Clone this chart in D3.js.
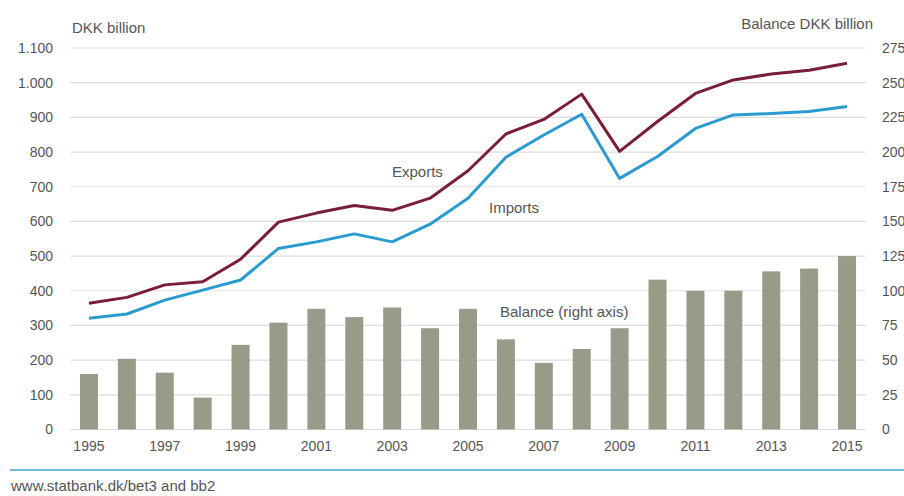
<!DOCTYPE html>
<html>
<head>
<meta charset="utf-8">
<script src="https://cdn.jsdelivr.net/npm/d3@7"></script>
<style>
  html, body { margin: 0; padding: 0; background: #fff; }
  svg { display: block; font-family: "Liberation Sans", Arial, sans-serif; }
</style>
</head>
<body>
<svg id="chart" width="904" height="496"></svg>
<script>
// Danish foreign trade, DKK billion
const years = [1995, 1996, 1997, 1998, 1999, 2000, 2001, 2002, 2003, 2004, 2005,
               2006, 2007, 2008, 2009, 2010, 2011, 2012, 2013, 2014, 2015];
const exportsVals = [364, 381, 417, 426, 491, 598, 624, 646, 632, 667, 746,
                     852, 894, 967, 802, 888, 969, 1008, 1025, 1036, 1056];
const importsVals = [321, 333, 373, 402, 431, 522, 541, 564, 541, 592, 667,
                     785, 849, 909, 724, 787, 868, 907, 911, 917, 931];
const balanceVals = [40, 51, 41, 23, 61, 77, 87, 81, 88, 73, 87,
                     65, 48, 58, 73, 108, 100, 100, 114, 116, 125];
const leftTicks = [0, 100, 200, 300, 400, 500, 600, 700, 800, 900, 1000, 1100];
const rightTicks = [0, 25, 50, 75, 100, 125, 150, 175, 200, 225, 250, 275];
const yearTicks = [1995, 1997, 1999, 2001, 2003, 2005, 2007, 2009, 2011, 2013, 2015];

const svg = d3.select("#chart");
const textColor = "#555";
const plot = { left: 70, right: 866, top: 48, bottom: 429.5 };

const dk = d3.formatLocale({ decimal: ",", thousands: ".", grouping: [3], currency: ["", ""] });
const fmtLeft = dk.format(",");

const x = d3.scaleBand().domain(years).range([plot.left, plot.right])
  .paddingInner(0.525).paddingOuter(0.2625);
const yL = d3.scaleLinear().domain([0, 1100]).range([plot.bottom, plot.top]);
const yR = d3.scaleLinear().domain([0, 275]).range([plot.bottom, plot.top]);

// horizontal gridlines
svg.append("g")
  .selectAll("line").data(leftTicks).join("line")
  .attr("x1", plot.left).attr("x2", plot.right)
  .attr("y1", d => yL(d)).attr("y2", d => yL(d))
  .attr("stroke", "#dedede").attr("stroke-width", 1.2);

// left axis
const leftAxis = svg.append("g")
  .attr("transform", `translate(${plot.left},0)`)
  .call(d3.axisLeft(yL).tickValues(leftTicks).tickFormat(fmtLeft).tickSize(0).tickPadding(17));
leftAxis.select(".domain").remove();
leftAxis.selectAll("text").attr("fill", textColor).attr("font-size", 14)
  .attr("font-family", "Liberation Sans, Arial, sans-serif");

// right axis
const rightAxis = svg.append("g")
  .attr("transform", `translate(${plot.right},0)`)
  .call(d3.axisRight(yR).tickValues(rightTicks).tickSize(0).tickPadding(16));
rightAxis.select(".domain").remove();
rightAxis.selectAll("text").attr("fill", textColor).attr("font-size", 14)
  .attr("font-family", "Liberation Sans, Arial, sans-serif");

// x axis labels
const xAxis = svg.append("g")
  .attr("transform", `translate(0,${plot.bottom})`)
  .call(d3.axisBottom(x).tickValues(yearTicks).tickSize(0).tickPadding(12));
xAxis.select(".domain").remove();
xAxis.selectAll("text").attr("fill", textColor).attr("font-size", 14)
  .attr("font-family", "Liberation Sans, Arial, sans-serif");

// balance bars (right axis)
svg.append("g")
  .selectAll("rect").data(years).join("rect")
  .attr("x", d => x(d))
  .attr("width", x.bandwidth())
  .attr("y", (d, i) => yR(balanceVals[i]))
  .attr("height", (d, i) => yR(0) - yR(balanceVals[i]))
  .attr("fill", "#9a9a88");

// export / import lines
const line = vals => d3.line()
  .x((d, i) => x(years[i]) + x.bandwidth() / 2)
  .y(d => yL(d))(vals);

svg.append("path").attr("d", line(importsVals))
  .attr("fill", "none").attr("stroke", "#2a9bd0").attr("stroke-width", 3)
  .attr("stroke-linejoin", "round");
svg.append("path").attr("d", line(exportsVals))
  .attr("fill", "none").attr("stroke", "#7a1d38").attr("stroke-width", 3)
  .attr("stroke-linejoin", "round");

// series labels
const label = (tx, ty, s, anchor = "start") => svg.append("text")
  .attr("x", tx).attr("y", ty).attr("fill", textColor).attr("font-size", 15)
  .attr("text-anchor", anchor).text(s);
label(392, 177, "Exports");
label(489, 213, "Imports");
label(500, 317, "Balance (right axis)");

// axis titles
label(72, 33, "DKK billion");
label(873, 29, "Balance DKK billion", "end");

// footer rule and source
svg.append("line").attr("x1", 10).attr("x2", 904).attr("y1", 470).attr("y2", 470)
  .attr("stroke", "#6bbad8").attr("stroke-width", 2);
svg.append("text").attr("x", 11).attr("y", 491).attr("fill", textColor)
  .attr("font-size", 15).text("www.statbank.dk/bet3 and bb2");
</script>
</body>
</html>
